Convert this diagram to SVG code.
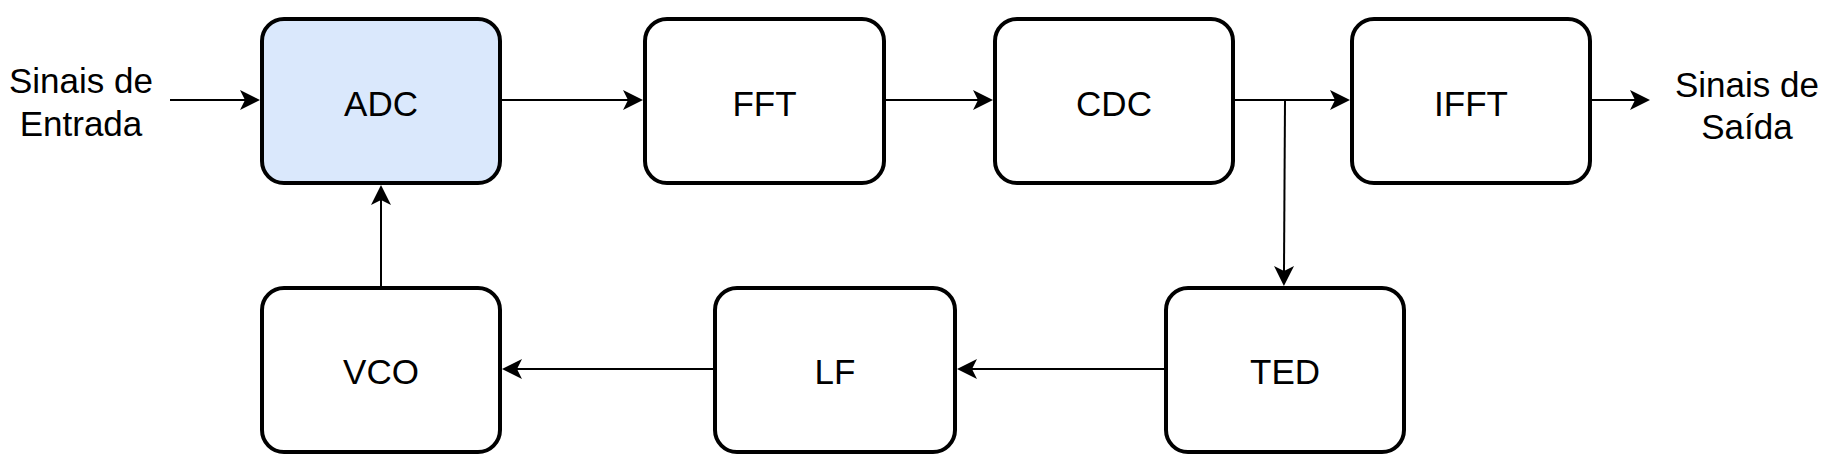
<svg xmlns="http://www.w3.org/2000/svg" width="1827" height="468" viewBox="0 0 1827 468">
  <style>
    .box { fill: #ffffff; stroke: #000000; stroke-width: 4; }
    .blue { fill: #dae8fc; }
    .lbl { font-family: "Liberation Sans", Arial, sans-serif; font-size: 35px; fill: #000000; text-anchor: middle; }
    .conn { fill: none; stroke: #000000; stroke-width: 2; marker-end: url(#arrow); }
    .plain { fill: none; stroke: #000000; stroke-width: 2; }
  </style>
  <defs>
    <marker id="arrow" markerUnits="userSpaceOnUse" markerWidth="22" markerHeight="22" viewBox="0 0 22 22" refX="6" refY="11" orient="auto">
      <path d="M1,1 L21,11 L1,21 L6,11 Z" fill="#000000"/>
    </marker>
  </defs>
  <rect width="1827" height="468" fill="#ffffff"/>

  <g id="connectors">
    <line class="conn" x1="170" y1="100" x2="245" y2="100"/>
    <line class="conn" x1="500" y1="100" x2="628" y2="100"/>
    <line class="conn" x1="884" y1="100" x2="978" y2="100"/>
    <line class="conn" x1="1233" y1="100" x2="1335" y2="100"/>
    <line class="conn" x1="1590" y1="100" x2="1635" y2="100"/>
    <line class="conn" x1="1285" y1="100" x2="1284" y2="271"/>
    <line class="conn" x1="1166" y1="369" x2="972" y2="369"/>
    <line class="conn" x1="715" y1="369" x2="517" y2="369"/>
    <line class="conn" x1="381" y1="288" x2="381" y2="200"/>
  </g>

  <g id="input-label">
    <text class="lbl" x="81" y="93">Sinais de</text>
    <text class="lbl" x="81" y="136">Entrada</text>
  </g>
  <g id="output-label">
    <text class="lbl" x="1747" y="97">Sinais de</text>
    <text class="lbl" x="1747" y="139">Saída</text>
  </g>

  <g id="adc">
    <rect class="box blue" x="262" y="19" width="238" height="164" rx="22" ry="22"/>
    <text class="lbl" x="381" y="116">ADC</text>
  </g>
  <g id="fft">
    <rect class="box" x="645" y="19" width="239" height="164" rx="22" ry="22"/>
    <text class="lbl" x="764.5" y="116">FFT</text>
  </g>
  <g id="cdc">
    <rect class="box" x="995" y="19" width="238" height="164" rx="22" ry="22"/>
    <text class="lbl" x="1114" y="116">CDC</text>
  </g>
  <g id="ifft">
    <rect class="box" x="1352" y="19" width="238" height="164" rx="22" ry="22"/>
    <text class="lbl" x="1471" y="116">IFFT</text>
  </g>
  <g id="vco">
    <rect class="box" x="262" y="288" width="238" height="164" rx="22" ry="22"/>
    <text class="lbl" x="381" y="384">VCO</text>
  </g>
  <g id="lf">
    <rect class="box" x="715" y="288" width="240" height="164" rx="22" ry="22"/>
    <text class="lbl" x="835" y="384">LF</text>
  </g>
  <g id="ted">
    <rect class="box" x="1166" y="288" width="238" height="164" rx="22" ry="22"/>
    <text class="lbl" x="1285" y="384">TED</text>
  </g>
</svg>
